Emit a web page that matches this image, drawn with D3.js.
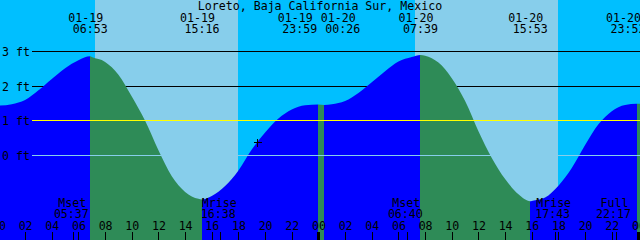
<!DOCTYPE html>
<html>
<head>
<meta charset="utf-8">
<script src="https://cdn.jsdelivr.net/npm/d3@7"></script>
<style>
  html, body { margin: 0; padding: 0; background: #fff; }
  svg { display: block; }
  text { font-family: "DejaVu Sans Mono", "Liberation Mono", monospace; font-size: 11.6px; fill: #000; }
</style>
</head>
<body>
<svg id="chart" width="640" height="240"></svg>
<script>
const title = "Loreto, Baja California Sur, Mexico";

// water level, every hour from 01-19 00:00 to 01-21 00:00 (ft)
const hourlyFt = [
  1.44, 1.48, 1.60, 1.88, 2.21, 2.52, 2.75, 2.84, 2.70, 2.33, 1.70, 1.00,
  0.15, -0.60, -1.05, -1.25, -1.17, -0.88, -0.43, 0.17, 0.66, 1.07, 1.33, 1.45,
  1.47, 1.48, 1.57, 1.80, 2.11, 2.43, 2.71, 2.84, 2.88, 2.68, 2.23, 1.57,
  0.70, -0.07, -0.68, -1.12, -1.31, -1.21, -0.87, -0.36, 0.30, 0.90, 1.28, 1.46,
  1.49
];
const edgeFt = 1.49; // right edge, 01-21 00:07

const tideTimes = ["2023-01-19 06:53", "2023-01-19 15:16", "2023-01-19 23:59", "2023-01-20 00:26",
                   "2023-01-20 07:39", "2023-01-20 15:53", "2023-01-20 23:52"];
const tideKinds = ["high", "low", "high", "low", "high", "low", "high"];
const tideFt = [2.86, -1.27, 1.47, 1.46, 2.90, -1.32, 1.49];

const sunRise = ["2023-01-19 07:15", "2023-01-20 07:15"];
const sunSet = ["2023-01-19 17:57", "2023-01-20 17:57"];

const moonNames = ["Mset", "Mrise", "Mset", "Mrise", "Full"];
const moonTimes = ["2023-01-19 05:37", "2023-01-19 16:38", "2023-01-20 06:40",
                   "2023-01-20 17:43", "2023-01-20 22:17"];

const depthTicks = [3, 2, 1, 0];
const nowTime = "2023-01-19 19:24";
const nowFt = 0.38;

const width = 640, height = 240;
const parse = d3.utcParse("%Y-%m-%d %H:%M");
const fmtDate = d3.utcFormat("%m-%d");
const fmtTime = d3.utcFormat("%H:%M");

const start = parse("2023-01-19 00:07"), end = parse("2023-01-21 00:07");
const day0 = parse("2023-01-19 00:00");

const x = d3.scaleUtc().domain([start, end]).range([0, width]);
const y = d3.scaleLinear().domain([0, 3]).range([155.5, 51.5]);
const lineY = v => Math.floor(y(v)) + 0.5;

const svg = d3.select("#chart");

// sky: night everywhere, day bands between sunrise and sunset
svg.append("rect").attr("width", width).attr("height", height).attr("fill", "#00bfff");
svg.selectAll(".day")
  .data(sunRise.map((r, i) => [parse(r), parse(sunSet[i])]))
  .join("rect")
  .attr("class", "day")
  .attr("x", d => Math.round(x(d[0])))
  .attr("width", d => Math.round(x(d[1])) - Math.round(x(d[0])))
  .attr("y", 0).attr("height", height)
  .attr("fill", "#87ceeb");

// depth lines above mean level sit under the water
svg.selectAll(".depth")
  .data(depthTicks.filter(d => d >= 2))
  .join("line")
  .attr("x1", 32).attr("x2", width)
  .attr("y1", lineY).attr("y2", lineY)
  .attr("stroke", "#000").attr("shape-rendering", "crispEdges");

// water curve
const tides = tideTimes.map((t, i) => ({ t: parse(t), kind: tideKinds[i], ft: tideFt[i] }));
const pts = hourlyFt.map((v, i) => ({ t: d3.utcHour.offset(day0, i), ft: v }))
  .concat(tides.map(d => ({ t: d.t, ft: d.ft })))
  .concat([{ t: end, ft: edgeFt }])
  .sort((a, b) => a.t - b.t);

const area = d3.area()
  .x(d => x(d.t))
  .y0(height)
  .y1(d => y(d.ft))
  .curve(d3.curveMonotoneX);

svg.append("clipPath").attr("id", "water")
  .append("path").attr("d", area(pts));

// rising = blue, falling = green
const bounds = [start].concat(tides.map(d => d.t)).concat([end]);
const segs = [];
for (let i = 0; i < bounds.length - 1; i++) {
  const falling = i === 0 ? tides[0].kind === "low" : tides[i - 1].kind === "high";
  segs.push({ a: bounds[i], b: bounds[i + 1], falling });
}
svg.append("g").attr("clip-path", "url(#water)")
  .selectAll("rect")
  .data(segs)
  .join("rect")
  .attr("x", d => x(d.a))
  .attr("width", d => x(d.b) - x(d.a))
  .attr("y", 0).attr("height", height)
  .attr("fill", d => d.falling ? "#2e8b57" : "#0000ff")
  .attr("shape-rendering", "crispEdges");

// mean level and datum drawn on top
svg.selectAll(".mark")
  .data(depthTicks.filter(d => d < 2))
  .join("line")
  .attr("x1", 32).attr("x2", width)
  .attr("y1", lineY).attr("y2", lineY)
  .attr("stroke", d => d === 1 ? "#ffff00" : "#87ceeb")
  .attr("shape-rendering", "crispEdges");

svg.selectAll(".ylab")
  .data(depthTicks)
  .join("text")
  .attr("x", 2).attr("y", d => lineY(d) + 4)
  .text(d => d + " ft");

// title
svg.append("text").attr("x", width / 2).attr("y", 10)
  .attr("text-anchor", "middle").text(title);

// tide event labels, pushed apart when they crowd
const lab = tides.map(d => ({ ...d, cx: x(d.t) }));
for (let i = 1; i < lab.length; i++) {
  if (lab[i].cx - lab[i - 1].cx < 43) {
    const m = (lab[i].cx + lab[i - 1].cx) / 2;
    lab[i - 1].cx = m - 21.5;
    lab[i].cx = m + 21.5;
  }
}
lab.forEach(d => d.cx = Math.min(d.cx, width - 12));

const tl = svg.selectAll(".tlab").data(lab).join("g");
tl.append("text").attr("x", d => d.cx - 4.5).attr("y", 21.7)
  .attr("text-anchor", "middle").text(d => fmtDate(d.t));
tl.append("text").attr("x", d => d.cx).attr("y", 33.3)
  .attr("text-anchor", "middle").text(d => fmtTime(d.t));

// now marker
const nx = Math.round(x(parse(nowTime))) + 0.5, ny = Math.round(y(nowFt)) + 0.5;
svg.append("path")
  .attr("d", `M${nx - 4},${ny}H${nx + 4}M${nx},${ny - 4}V${ny + 4}`)
  .attr("stroke", "#000").attr("shape-rendering", "crispEdges");

// moon events
const moon = moonTimes.map((t, i) => ({ t: parse(t), name: moonNames[i] }));
const ml = svg.selectAll(".mlab").data(moon).join("g");
ml.append("text").attr("x", d => x(d.t) - 1).attr("y", 206.7)
  .attr("text-anchor", "middle").text(d => d.name);
ml.append("text").attr("x", d => x(d.t) - 2).attr("y", 218.3)
  .attr("text-anchor", "middle").text(d => fmtTime(d.t));
ml.append("line")
  .attr("x1", d => Math.round(x(d.t)) + 0.5).attr("x2", d => Math.round(x(d.t)) + 0.5)
  .attr("y1", 232).attr("y2", height)
  .attr("stroke", "#000").attr("shape-rendering", "crispEdges");

// hour axis along the bottom
const hourTicks = d3.utcHour.every(2).range(day0, d3.utcHour.offset(end, 1));
const axis = svg.append("g")
  .attr("transform", `translate(0,${height})`)
  .style("color", "#000")
  .call(d3.axisTop(x)
    .tickValues(hourTicks)
    .tickFormat(d3.utcFormat("%H"))
    .tickSizeInner(8)
    .tickSizeOuter(0)
    .tickPadding(2));
axis.select(".domain").remove();
axis.selectAll(".tick line")
  .attr("shape-rendering", "crispEdges")
  .attr("stroke-width", d => d.getUTCHours() === 0 ? 3 : 1);
</script>
</body>
</html>
